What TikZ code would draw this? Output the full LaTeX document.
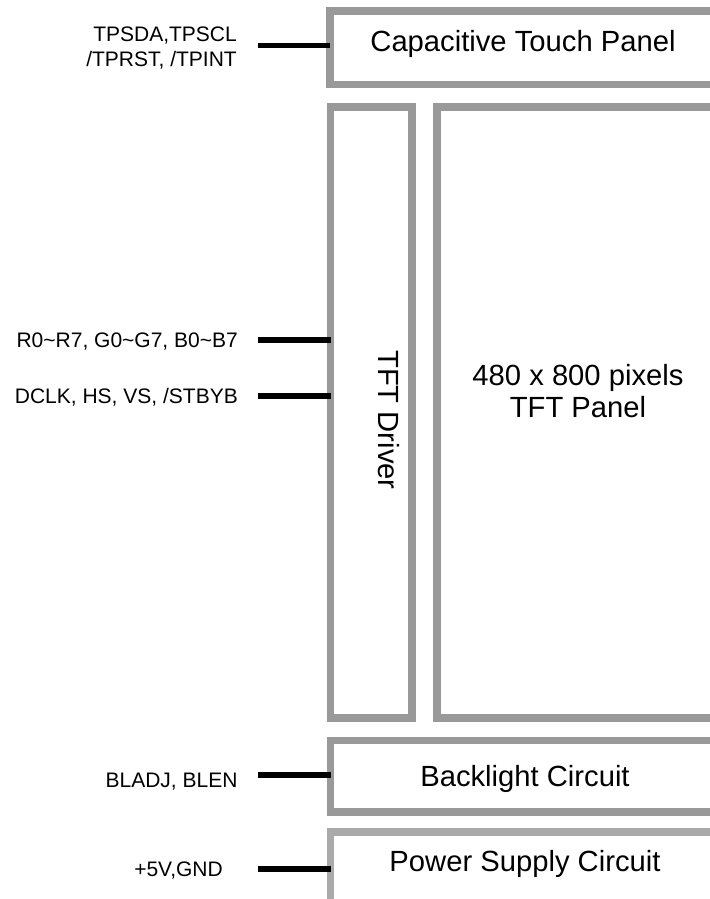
\documentclass[tikz,border=0pt]{standalone}
\usepackage{fontspec}
\setmainfont{Liberation Sans}
\definecolor{boxgray}{RGB}{153,153,153}
\definecolor{pwrgray}{RGB}{170,170,170}
\begin{document}
\begin{tikzpicture}[x=1bp,y=-1bp,
  blk/.style={draw=boxgray, line width=7.5bp, outer sep=0pt, inner sep=0pt, fill=white},
  wire/.style={line width=5.5bp, draw=black},
  bigtxt/.style={font=\fontsize{29.2bp}{32.3bp}\selectfont, inner sep=0pt, anchor=base, align=center},
  smalltxt/.style={font=\fontsize{21bp}{25bp}\selectfont, inner sep=0pt, align=right, anchor=base east}]
\useasboundingbox (0,0) rectangle (710,899);
\clip (0,0) rectangle (710,899);
\fill[white] (0,0) rectangle (710,899);
% blocks
\node[blk, minimum width=387bp, minimum height=73.5bp] (touch) at (523.5,47.75) {};
\node[blk, minimum width=81.5bp, minimum height=611bp] (driver) at (371.25,412.5) {};
\node[blk, minimum width=280bp, minimum height=611bp] (panel) at (577,412.5) {};
\node[blk, minimum width=386.5bp, minimum height=71.5bp] (backlight) at (523.75,776.25) {};
\node[blk, draw=pwrgray, minimum width=386.5bp, minimum height=78bp] (power) at (523.75,871) {};
% block texts
\node[bigtxt] (touchtxt) at (523,51.7) {Capacitive Touch Panel};
\node[bigtxt, rotate=-90, anchor=center] (drivertxt) at (389,420) {TFT Driver};
\node[bigtxt] (paneltxt) at (578,417.3) {480 x 800 pixels\\TFT Panel};
\node[bigtxt] (blighttxt) at (525,786.7) {Backlight Circuit};
\node[bigtxt] (powertxt) at (525,871) {Power Supply Circuit};
% signal labels
\node[smalltxt] (tplbl) at (237,66.7) {TPSDA,TPSCL\\/TPRST, /TPINT};
\node[smalltxt] (rgblbl) at (238,347) {R0\textasciitilde R7, G0\textasciitilde G7, B0\textasciitilde B7};
\node[smalltxt] (synclbl) at (238,403) {DCLK, HS, VS, /STBYB};
\node[smalltxt] (bllbl) at (237.7,787) {BLADJ, BLEN};
\node[smalltxt] (pwrlbl) at (223,876.7) {+5V,GND};
% wires
\coordinate (w1) at (258,45.5);
\coordinate (w2) at (258,340);
\coordinate (w3) at (258,396);
\coordinate (w4) at (258,775);
\coordinate (w5) at (258,869);
\draw[wire] (w1) -- (w1 -| touch.west);
\draw[wire] (w2) -- (w2 -| driver.west);
\draw[wire] (w3) -- (w3 -| driver.west);
\draw[wire] (w4) -- (w4 -| backlight.west);
\draw[wire] (w5) -- (w5 -| power.west);
\end{tikzpicture}
\end{document}
